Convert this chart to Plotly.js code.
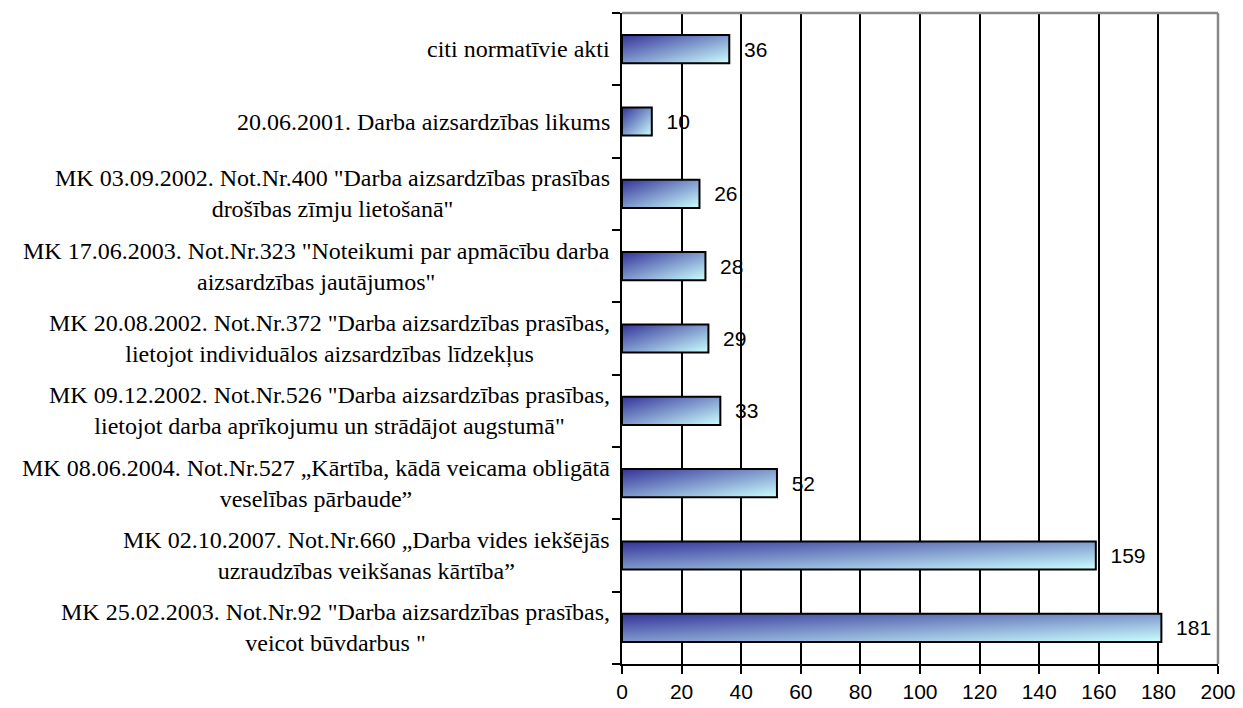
<!DOCTYPE html>
<html>
<head>
<meta charset="utf-8">
<script src="https://cdn.plot.ly/plotly-3.0.1.min.js"></script>
<style>
  html, body { margin: 0; padding: 0; background: #fff; }
  #chart { width: 1243px; height: 708px; }
</style>
</head>
<body>
<div id="chart"></div>
<script>
// Categories listed bottom to top
const categories = [
  'MK 25.02.2003. Not.Nr.92 "Darba aizsardzības prasības,<br>veicot būvdarbus "',
  'MK 02.10.2007. Not.Nr.660 „Darba vides iekšējās<br>uzraudzības veikšanas kārtība”',
  'MK 08.06.2004. Not.Nr.527 „Kārtība, kādā veicama obligātā<br>veselības pārbaude”',
  'MK 09.12.2002. Not.Nr.526 "Darba aizsardzības prasības,<br>lietojot darba aprīkojumu un strādājot augstumā"',
  'MK 20.08.2002. Not.Nr.372 "Darba aizsardzības prasības,<br>lietojot individuālos aizsardzības līdzekļus',
  'MK 17.06.2003. Not.Nr.323 "Noteikumi par apmācību darba<br>aizsardzības jautājumos"',
  'MK 03.09.2002. Not.Nr.400 "Darba aizsardzības prasības<br>drošības zīmju lietošanā"',
  '20.06.2001. Darba aizsardzības likums',
  'citi normatīvie akti'
];
const values = [181, 159, 52, 33, 29, 28, 26, 10, 36];
const xTicks = [0, 20, 40, 60, 80, 100, 120, 140, 160, 180, 200];

const trace = {
  type: 'bar',
  orientation: 'h',
  x: values,
  y: categories,
  text: values.map(v => '  ' + v),
  textposition: 'outside',
  cliponaxis: false,
  textfont: { family: 'Liberation Sans', size: 21, color: '#000' },
  marker: { color: '#6f8fc0', line: { color: '#000', width: 2 } },
  hoverinfo: 'skip'
};

const annotations = categories.map(c => ({
  xref: 'paper', yref: 'y',
  x: 0, y: c,
  xanchor: 'right', yanchor: 'middle',
  xshift: -10,
  align: 'center',
  text: c,
  showarrow: false,
  font: { family: 'Liberation Serif', size: 24, color: '#000' }
}));

const layout = {
  width: 1243, height: 708,
  margin: { l: 622, r: 25, t: 13, b: 44 },
  paper_bgcolor: '#fff', plot_bgcolor: '#fff',
  showlegend: false,
  bargap: 0.61,
  xaxis: {
    range: [0, 200],
    tickvals: xTicks,
    ticktext: xTicks.map(String),
    showgrid: true, gridcolor: '#000', gridwidth: 2,
    zeroline: false,
    showline: true, linecolor: '#000', linewidth: 2,
    ticks: 'outside', ticklen: 8, tickwidth: 2, tickcolor: '#000',
    tickfont: { family: 'Liberation Sans', size: 21, color: '#000' }
  },
  yaxis: {
    type: 'category',
    categoryorder: 'array',
    categoryarray: categories,
    range: [-0.5, categories.length - 0.5],
    showgrid: false, zeroline: false,
    showline: true, linecolor: '#000', linewidth: 2,
    ticks: 'outside', tickson: 'boundaries', ticklen: 8, tickwidth: 2, tickcolor: '#000',
    showticklabels: false
  },
  shapes: [
    { type: 'line', xref: 'paper', yref: 'paper', x0: 0, x1: 1, y0: 1, y1: 1, line: { color: '#888', width: 2.5 }, layer: 'above' },
    { type: 'line', xref: 'paper', yref: 'paper', x0: 1, x1: 1, y0: 0, y1: 1, line: { color: '#888', width: 2.5 }, layer: 'above' }
  ],
  annotations: annotations
};

Plotly.newPlot('chart', [trace], layout, { staticPlot: true, displayModeBar: false }).then(gd => {
  const svg = gd.querySelector('svg.main-svg');
  const ns = 'http://www.w3.org/2000/svg';
  let defs = svg.querySelector('defs');
  if (!defs) { defs = document.createElementNS(ns, 'defs'); svg.insertBefore(defs, svg.firstChild); }
  const grad = document.createElementNS(ns, 'linearGradient');
  grad.setAttribute('id', 'barGrad');
  grad.setAttribute('x1', '0'); grad.setAttribute('y1', '0');
  grad.setAttribute('x2', '1'); grad.setAttribute('y2', '1');
  [['0', '#333399'], ['1', '#ccffff']].forEach(([o, c]) => {
    const s = document.createElementNS(ns, 'stop');
    s.setAttribute('offset', o); s.setAttribute('stop-color', c);
    grad.appendChild(s);
  });
  defs.appendChild(grad);
  gd.querySelectorAll('.bars .point path').forEach(p => { p.style.fill = 'url(#barGrad)'; });
});
</script>
</body>
</html>
